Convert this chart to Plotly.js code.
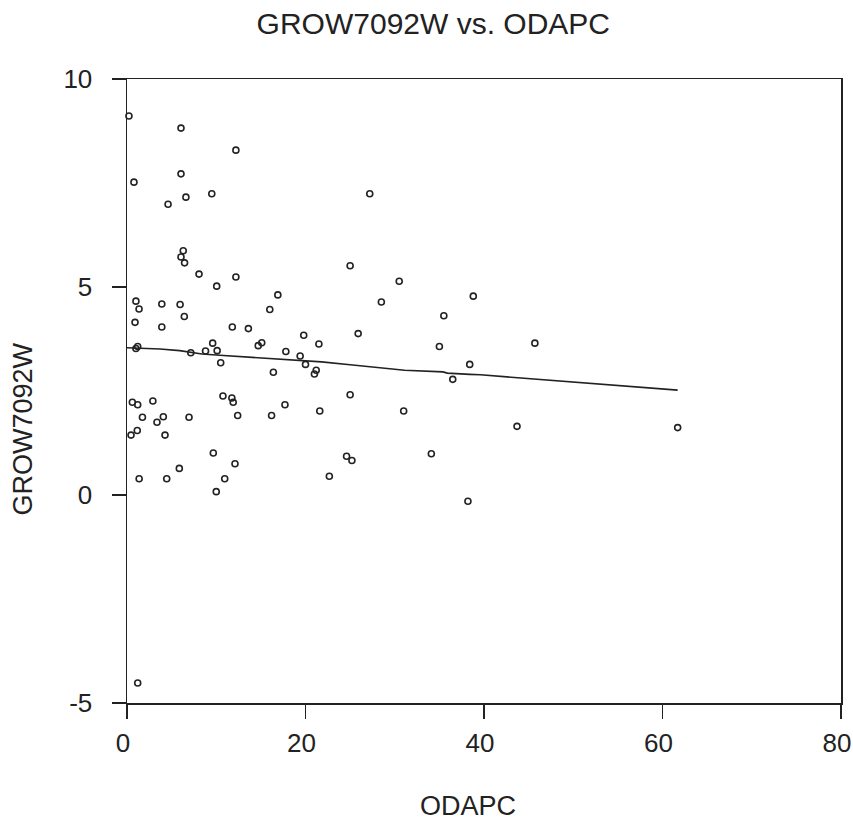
<!DOCTYPE html>
<html>
<head>
<meta charset="utf-8">
<script src="https://cdn.plot.ly/plotly-3.0.1.min.js"></script>
<style>html,body{margin:0;padding:0;background:#fff;}#chart{width:853px;height:822px;}</style>
</head>
<body>
<div id="chart"></div>
<script>
// Scatter data: ODAPC (x) vs GROW7092W (y)
const odapc = [0.22, 6.05, 12.2, 0.78, 6.05, 27.2, 9.5, 6.6, 4.6, 6.3,
  6.05, 6.45, 8.07, 12.2, 25.0, 30.5, 10.05, 16.9, 38.8, 1.0,
  3.9, 5.95, 28.5, 1.35, 16.0, 6.42, 35.5, 0.9, 3.9, 11.8,
  13.6, 25.9, 19.8, 9.6, 15.1, 45.7, 14.7, 21.5, 35.0, 1.2,
  1.0, 10.1, 7.15, 8.8, 17.8, 19.4, 10.5, 20.0, 38.4, 16.4,
  21.2, 21.0, 36.5, 0.6, 2.9, 1.2, 11.75, 10.75, 11.9, 17.7,
  1.73, 4.07, 6.95, 12.4, 16.2, 21.6, 25.0, 31.0, 3.36, 1.15,
  43.7, 61.7, -0.1, 0.45, 4.26, 9.67, 34.1, 24.6, 25.2, 12.1,
  5.86, 1.36, 4.45, 10.95, 22.67, 10.0, 38.2, 1.2];
const grow = [9.11, 8.82, 8.29, 7.52, 7.72, 7.24, 7.24, 7.16, 6.99, 5.87,
  5.72, 5.58, 5.31, 5.24, 5.51, 5.14, 5.02, 4.81, 4.78, 4.66,
  4.59, 4.58, 4.64, 4.47, 4.46, 4.29, 4.31, 4.15, 4.04, 4.04,
  4.0, 3.88, 3.84, 3.65, 3.66, 3.65, 3.59, 3.63, 3.57, 3.57,
  3.52, 3.47, 3.42, 3.46, 3.45, 3.34, 3.18, 3.14, 3.14, 2.95,
  3.0, 2.91, 2.78, 2.23, 2.26, 2.17, 2.33, 2.38, 2.23, 2.17,
  1.87, 1.88, 1.87, 1.91, 1.91, 2.02, 2.41, 2.02, 1.75, 1.55,
  1.65, 1.62, 1.40, 1.44, 1.44, 1.01, 0.99, 0.93, 0.83, 0.75,
  0.64, 0.39, 0.39, 0.39, 0.45, 0.08, -0.15, -4.52];

// Smoothed fit line
const fitX = [0, 3.7, 5.9, 8.4, 10.4, 15.2, 18.3, 21.8, 25.0, 27.5, 31.1, 35.4, 35.9, 38.4, 39.6, 61.7];
const fitY = [3.54, 3.51, 3.47, 3.39, 3.36, 3.29, 3.25, 3.20, 3.13, 3.08, 3.00, 2.96, 2.93, 2.90, 2.89, 2.52];

const xTicks = [0, 20, 40, 60, 80];
const xTickText = ['0', '20', '40', '60', '80'];
const yTicks = [-5, 0, 5, 10];
const yTickText = ['-5', '0', '5', '10'];

const ink = '#222';
const font = {family: 'Liberation Sans, Arial, sans-serif', color: ink};

const traces = [
  {
    x: odapc, y: grow, type: 'scatter', mode: 'markers', cliponaxis: false,
    marker: {symbol: 'circle-open', size: 6, color: ink, line: {width: 1.6, color: ink}},
    hoverinfo: 'x+y'
  },
  {
    x: fitX, y: fitY, type: 'scatter', mode: 'lines',
    line: {color: ink, width: 1.6}, hoverinfo: 'skip'
  }
];

const axisCommon = {
  showgrid: false, zeroline: false, showline: true, mirror: true,
  linecolor: ink, linewidth: 1.5, ticks: 'outside', ticklen: 14,
  tickwidth: 1.5, tickcolor: ink, tickfont: Object.assign({size: 26}, font),
  ticklabeloverflow: 'allow'
};

const layout = {
  width: 853, height: 822,
  margin: {l: 127, r: 12, t: 79, b: 119},
  paper_bgcolor: '#fff', plot_bgcolor: '#fff',
  showlegend: false,
  font: font,
  title: {text: 'GROW7092W vs. ODAPC', font: Object.assign({size: 30}, font),
          x: 0.508, xref: 'container', xanchor: 'center', y: 0.9716, yanchor: 'middle'},
  xaxis: Object.assign({}, axisCommon, {
    range: [0, 80], tickvals: xTicks, ticktext: xTickText,
    ticklabelstandoff: 2, ticklabelshift: -4
  }),
  yaxis: Object.assign({}, axisCommon, {
    range: [-5, 10], tickvals: yTicks, ticktext: yTickText,
    ticklabelstandoff: 14
  }),
  annotations: [
    {text: 'ODAPC', xref: 'paper', yref: 'paper', x: 0.4776, y: -0.165,
     xanchor: 'center', yanchor: 'middle', showarrow: false,
     font: Object.assign({size: 27}, font)},
    {text: 'GROW7092W', xref: 'paper', yref: 'paper', x: -0.145, y: 0.439,
     xanchor: 'center', yanchor: 'middle', showarrow: false, textangle: -90,
     font: Object.assign({size: 27}, font)}
  ]
};

Plotly.newPlot('chart', traces, layout, {displayModeBar: false, staticPlot: true});
</script>
</body>
</html>
